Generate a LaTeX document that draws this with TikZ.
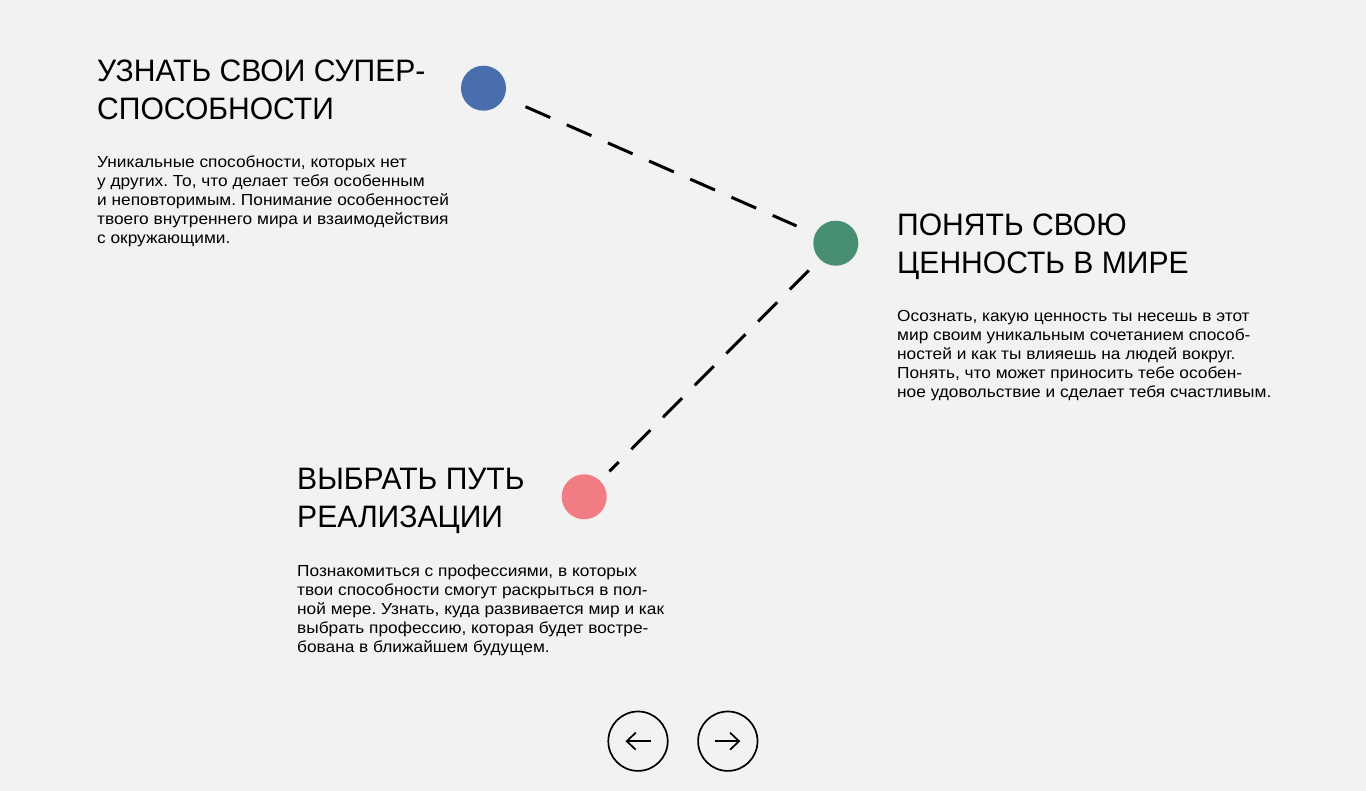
\documentclass[tikz,border=0pt]{standalone}
\usepackage{fontspec}
\setmainfont{Liberation Sans}
\newfontfamily\titlefont{Liberation Sans}[FakeStretch=0.97]
\newfontfamily\bodyfont{Liberation Sans}[FakeStretch=1.08]
\frenchspacing
\usetikzlibrary{arrows.meta,bending}
\definecolor{bg}{HTML}{F2F2F2}
\definecolor{dotblue}{RGB}{73,110,174}
\definecolor{dotgreen}{RGB}{72,142,115}
\definecolor{dotpink}{RGB}{242,124,131}
\begin{document}
\begin{tikzpicture}[x=1pt,y=-1pt,
 dot/.style={circle,minimum size=45pt,inner sep=0pt,fill=#1},
 title/.style={anchor=base west,inner sep=0pt,align=left,font=\titlefont\fontsize{31}{38}\selectfont},
 body/.style={anchor=base west,inner sep=0pt,align=left,font=\bodyfont\fontsize{16}{19}\selectfont},
 link/.style={line width=3pt,dash pattern=on 27pt off 18pt},
 btn/.style={circle,draw,line width=1.7pt,minimum size=59.4pt,inner sep=0pt},
 icon/.style={line width=1.7pt,-{Straight Barb[bend,length=9pt,width=17pt]}}]
\useasboundingbox[fill=bg] (0,0) rectangle (1366,791);

\node[dot=dotblue] (blue) at (483.5,88.2) {};
\node[dot=dotgreen] (green) at (835.8,243.2) {};
\node[dot=dotpink] (pink) at (584.2,496.8) {};

\draw[link,shorten <=23.2pt,shorten >=20.2pt] (blue) -- (green);
\draw[link,shorten <=15.6pt,shorten >=13.1pt] (green) -- (pink);

% anchors are at the baseline of the last line
\node[title] (t1) at (97,120) {УЗНАТЬ СВОИ СУПЕР-\\СПОСОБНОСТИ};
\node[body] (b1) at (97,243.5) {Уникальные способности, которых нет\\у других. То, что делает тебя особенным\\и неповторимым. Понимание особенностей\\твоего внутреннего мира и взаимодействия\\с окружающими.};

\node[title] (t2) at (897,273.5) {ПОНЯТЬ СВОЮ\\ЦЕННОСТЬ В МИРЕ};
\node[body] (b2) at (897,397.5) {Осознать, какую ценность ты несешь в этот\\мир своим уникальным сочетанием способ-\\ностей и как ты влияешь на людей вокруг.\\Понять, что может приносить тебе особен-\\ное удовольствие и сделает тебя счастливым.};

\node[title] (t3) at (297,527.7) {ВЫБРАТЬ ПУТЬ\\РЕАЛИЗАЦИИ};
\node[body] (b3) at (297,652) {Познакомиться с профессиями, в которых\\твои способности смогут раскрыться в пол-\\ной мере. Узнать, куда развивается мир и как\\выбрать профессию, которая будет востре-\\бована в ближайшем будущем.};

\node[btn] (btnL) at (638,741.2) {};
\node[btn] (btnR) at (727.8,741.2) {};
\draw[icon] ([xshift=12.5pt]btnL.center) -- ([xshift=-12.5pt]btnL.center);
\draw[icon] ([xshift=-12.5pt]btnR.center) -- ([xshift=12.5pt]btnR.center);
\end{tikzpicture}
\end{document}
